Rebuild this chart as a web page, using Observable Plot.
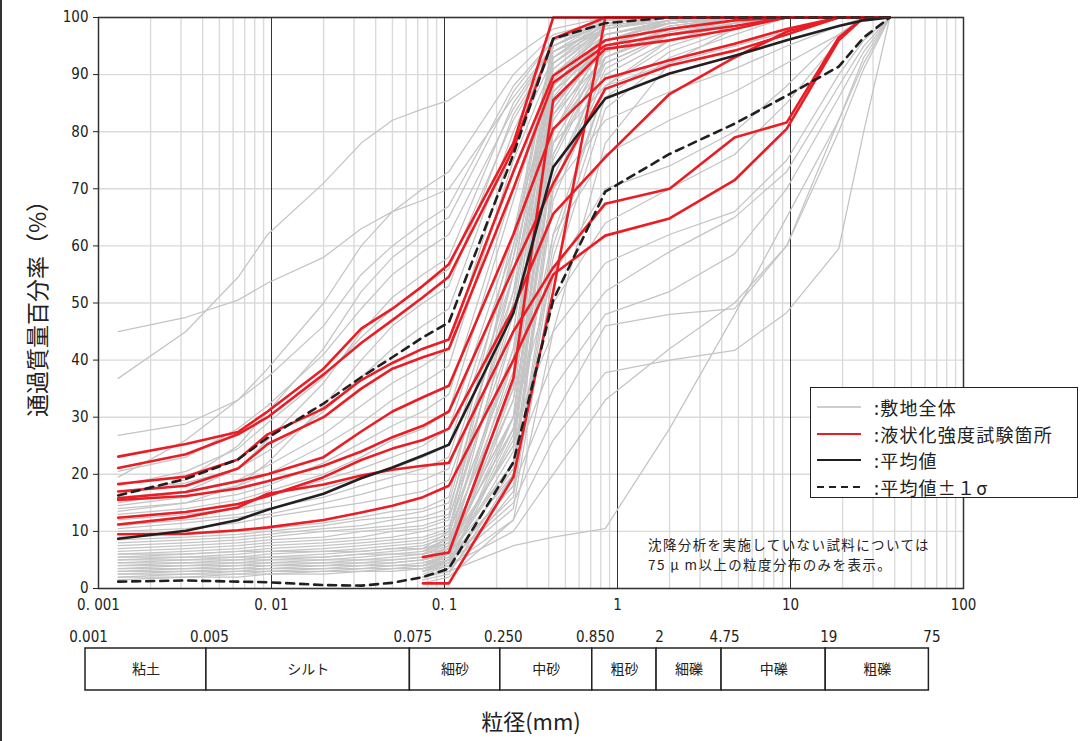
<!DOCTYPE html>
<html><head><meta charset="utf-8">
<script src="https://cdn.jsdelivr.net/npm/d3@7"></script>
<script src="https://cdn.jsdelivr.net/npm/@observablehq/plot@0.6"></script>
<style>
body{margin:0;background:#fff;}
#wrap{position:relative;width:1086px;height:741px;overflow:hidden;font-family:"Noto Sans CJK JP",sans-serif;color:#222;}
#wrap svg{display:block;}
#edge{position:absolute;left:0;top:0;width:2px;height:741px;background:#333;}
#legend{position:absolute;left:810px;top:387px;width:268px;height:111px;border:1.5px solid #222;background:#fff;box-sizing:border-box;}
#legend .row{position:absolute;left:0;width:260px;height:26px;}
#legend .row span{position:absolute;left:63px;top:0;font-size:18px;letter-spacing:1.2px;white-space:nowrap;line-height:26px;}
#legend .row svg{position:absolute;left:6px;top:0;}
#note{position:absolute;left:648px;top:534px;font-size:13.5px;letter-spacing:1.4px;line-height:20px;white-space:nowrap;}
</style></head>
<body>
<div id="wrap"><div id="edge"></div></div>
<script>
// ---- data ----
const grainSizes = [0.0013, 0.0032, 0.0064, 0.0095, 0.02, 0.033, 0.05, 0.075, 0.106, 0.25, 0.425, 0.85, 2, 4.75, 9.5, 19, 26.5, 37.5];
const sieveSizes = [0.075, 0.106, 0.25, 0.425, 0.85, 2, 4.75, 9.5, 19, 26.5, 37.5];

// site-wide samples with sedimentation analysis
const grayFine = [
  [45, 47.5, 50.5, 53.5, 58, 63, 66, 68, 70, 86, 95, 99, 100, 100, 100, 100, 100, 100],
  [36.8, 45, 54.5, 62, 71, 78, 82, 84, 85.5, 93, 98, 100, 100, 100, 100, 100, 100, 100],
  [26.8, 28.8, 33, 37, 46, 55, 60, 64, 67, 88, 96, 99, 100, 100, 100, 100, 100, 100],
  [19.5, 26, 33, 38.5, 50, 60, 66, 70, 73, 90, 97, 99.5, 100, 100, 100, 100, 100, 100],
  [20.5, 23, 28, 32, 41, 49, 55, 59, 62, 84, 95, 99, 100, 100, 100, 100, 100, 100],
  [18, 20.5, 24.5, 29, 37, 44, 49, 53, 56, 82, 94, 98, 100, 100, 100, 100, 100, 100],
  [17, 18.5, 21, 24, 31, 37, 42, 46, 49, 80, 95, 99, 100, 100, 100, 100, 100, 100],
  [16, 17, 19, 21.5, 27, 32, 36, 39, 42, 78, 93, 98, 100, 100, 100, 100, 100, 100],
  [14.5, 16, 18, 20, 25, 29, 33, 36, 39, 75, 92, 98, 100, 100, 100, 100, 100, 100],
  [14, 15, 16.5, 18, 22, 25.5, 28.5, 31, 34, 70, 90, 97, 99.5, 100, 100, 100, 100, 100],
  [13, 14, 15.5, 17, 20, 23, 26, 28, 31, 68, 91, 98, 100, 100, 100, 100, 100, 100],
  [12.5, 13.5, 14.5, 16, 19, 21, 23, 25, 28, 62, 88, 96, 99, 100, 100, 100, 100, 100],
  [12, 13, 14, 15, 17.5, 19.5, 21, 23, 25, 60, 87, 95, 98.5, 100, 100, 100, 100, 100],
  [11, 12, 13, 14, 16, 18, 19.5, 21, 23, 58, 85, 94, 98, 100, 100, 100, 100, 100],
  [10.5, 11.5, 12.5, 13, 15, 16.5, 18, 19, 21, 55, 83, 93, 97, 99, 100, 100, 100, 100],
  [10, 10.5, 11.5, 12.5, 14, 15, 16, 17, 19, 52, 80, 92, 97, 99.5, 100, 100, 100, 100],
  [16.5, 19, 25, 31, 42, 52, 58, 62, 65, 87, 96, 99, 100, 100, 100, 100, 100, 100],
  [15, 17, 21, 26, 36, 45, 51, 55, 58, 85, 95, 99, 100, 100, 100, 100, 100, 100],
  [13.5, 15, 18, 22, 32, 40, 46, 50, 53, 83, 94, 98.5, 100, 100, 100, 100, 100, 100],
  [9, 9.5, 10, 10.5, 11.5, 12.5, 13.5, 14, 16, 62, 95, 99.5, 100, 100, 100, 100, 100, 100],
  [8.5, 9, 9.5, 10, 11, 12, 12.5, 13.5, 15, 55, 93, 99, 100, 100, 100, 100, 100, 100],
  [8, 8.5, 9, 9.5, 10.5, 11, 12, 12.5, 14, 50, 92, 99, 100, 100, 100, 100, 100, 100],
  [7.5, 8, 8.5, 9, 10, 10.5, 11, 12, 13, 58, 96, 100, 100, 100, 100, 100, 100, 100],
  [7, 7.5, 8, 8.5, 9, 10, 10.5, 11, 12.5, 45, 90, 98, 99.5, 100, 100, 100, 100, 100],
  [6.5, 7, 7.5, 8, 8.5, 9, 10, 10.5, 12, 52, 94, 99.5, 100, 100, 100, 100, 100, 100],
  [6, 6.5, 7, 7.5, 8, 8.5, 9, 10, 11, 40, 88, 97, 99, 100, 100, 100, 100, 100],
  [6, 6, 6.5, 7, 7.5, 8, 8.5, 9, 10.5, 48, 91, 98.5, 100, 100, 100, 100, 100, 100],
  [5.5, 6, 6.5, 6.5, 7, 7.5, 8, 8.5, 10, 35, 85, 96, 99, 100, 100, 100, 100, 100],
  [5.5, 5.5, 6, 6.5, 6.5, 7, 7.5, 8, 9.5, 42, 89, 98, 99.5, 100, 100, 100, 100, 100],
  [5, 5.5, 5.5, 6, 6.5, 6.5, 7, 7.5, 9, 30, 82, 95, 98.5, 100, 100, 100, 100, 100],
  [5, 5, 5.5, 5.5, 6, 6.5, 7, 7, 8.5, 38, 87, 97, 99.5, 100, 100, 100, 100, 100],
  [4.5, 5, 5, 5.5, 5.5, 6, 6.5, 7, 8, 28, 80, 94, 98, 100, 100, 100, 100, 100],
  [4.5, 4.5, 5, 5, 5.5, 6, 6, 6.5, 8, 33, 84, 96, 99, 100, 100, 100, 100, 100],
  [4, 4.5, 4.5, 5, 5, 5.5, 6, 6, 7.5, 25, 76, 93, 97.5, 99.5, 100, 100, 100, 100],
  [4, 4, 4.5, 4.5, 5, 5, 5.5, 6, 7, 36, 86, 97, 99, 100, 100, 100, 100, 100],
  [3.5, 4, 4, 4.5, 4.5, 5, 5, 5.5, 7, 22, 72, 92, 97, 99, 100, 100, 100, 100],
  [3.5, 3.5, 4, 4, 4.5, 4.5, 5, 5.5, 6.5, 30, 83, 96, 99, 100, 100, 100, 100, 100],
  [3, 3.5, 3.5, 4, 4, 4.5, 4.5, 5, 6, 20, 68, 90, 96, 99, 100, 100, 100, 100],
  [3, 3, 3.5, 3.5, 4, 4, 4.5, 5, 6, 26, 78, 94, 98, 100, 100, 100, 100, 100],
  [2.5, 3, 3, 3.5, 3.5, 4, 4, 4.5, 5.5, 18, 62, 88, 95, 98.5, 100, 100, 100, 100],
  [2.5, 2.5, 3, 3, 3.5, 3.5, 4, 4, 5, 24, 75, 93, 98, 100, 100, 100, 100, 100],
  [2, 2.5, 2.5, 3, 3, 3.5, 3.5, 4, 5, 16, 58, 86, 94, 98, 100, 100, 100, 100],
  [2, 2, 2.5, 2.5, 3, 3, 3.5, 3.5, 4.5, 21, 70, 91, 97, 99.5, 100, 100, 100, 100],
  [1.5, 2, 2, 2.5, 2.5, 3, 3, 3.5, 4.5, 14, 55, 84, 93, 97, 100, 100, 100, 100]
];

// site-wide samples with sieve analysis only (75 μm and above)
const graySieve = [
  [3, 5, 40, 88, 98, 100, 100, 100, 100, 100, 100],
  [2, 3.5, 30, 80, 96, 99.5, 100, 100, 100, 100, 100],
  [4, 6, 45, 92, 99, 100, 100, 100, 100, 100, 100],
  [1.5, 2.5, 20, 70, 93, 98, 100, 100, 100, 100, 100],
  [5, 7.5, 50, 93, 99.5, 100, 100, 100, 100, 100, 100],
  [2.5, 4, 27, 76, 95, 99, 100, 100, 100, 100, 100],
  [6, 9, 55, 95, 100, 100, 100, 100, 100, 100, 100],
  [3.5, 5, 35, 84, 97, 99.5, 100, 100, 100, 100, 100],
  [1, 2, 12, 45, 78, 92, 98, 100, 100, 100, 100],
  [7, 10, 60, 96, 100, 100, 100, 100, 100, 100, 100],
  [2, 3, 17, 60, 88, 96, 99, 100, 100, 100, 100],
  [6, 8, 28, 45, 57, 62, 66, 75, 90, 96, 100],
  [4.5, 6, 22, 40, 52, 59, 65, 73, 88, 95, 100],
  [3.5, 5, 18, 35, 48, 52, 58.6, 70, 86, 94, 100],
  [3.5, 5, 15, 30, 46, 48, 49, 60, 80, 91, 100],
  [3, 4, 12, 26, 37.8, 40, 41.7, 48.3, 59.5, 80, 100],
  [2, 3, 7.5, 9, 10.5, 28, 48, 65, 82, 93, 100],
  [5, 7, 25, 50, 64, 70, 76, 85, 96, 100, 100],
  [6.5, 9, 30, 55, 70, 74, 80, 88, 97, 100, 100],
  [3, 4, 10, 20, 33, 42, 50, 60, 82, 92, 100],
  [4, 5.5, 33, 70, 82, 87, 91, 95, 98.5, 100, 100],
  [3, 4.5, 28, 62, 76, 82, 87, 92, 97, 100, 100],
  [5, 7, 42, 78, 88, 92, 95, 97.5, 100, 100, 100]
];

// liquefaction strength test locations
const redFine = [
  [23.1, 25.3, 27.4, 31, 38.5, 45.5, 49, 53, 56.8, 78, 100, 100, 100, 100, 100, 100, 100, 100],
  [21.1, 23.5, 27.0, 30, 37.5, 43, 47, 51, 54.6, 77, 96.3, 100, 100, 100, 100, 100, 100, 100],
  [18.3, 19.6, 22.6, 27, 31.5, 36.5, 39.5, 42, 43.6, 73, 89.8, 96, 98, 99.5, 100, 100, 100, 100],
  [17.0, 18.0, 21.0, 25.3, 30, 35, 38.5, 40.5, 42.0, 70, 88.6, 95.1, 97, 98.5, 100, 100, 100, 100],
  [15.8, 16.9, 18.8, 20, 23, 27.5, 31, 33.5, 35.5, 62, 80.5, 89.3, 92.5, 95.4, 98, 100, 100, 100],
  [15.5, 16.2, 17.5, 18.8, 21.5, 24, 26.5, 28.5, 31, 56, 70.9, 87.5, 91.6, 94.2, 97, 100, 100, 100],
  [12.4, 13.4, 14.8, 16.2, 19.5, 22.5, 24.5, 26, 28, 49, 65.6, 75.5, 86.6, 93, 97.5, 100, 100, 100],
  [11.2, 12.5, 14.2, 16.6, 18.2, 19.8, 20.8, 21.5, 22, 45, 56.2, 67.4, 70, 79, 81.6, 96.5, 100, 100],
  [9.5, 9.6, 10.2, 10.7, 12, 13.3, 14.5, 16, 18, 40, 55, 61.8, 64.8, 71.5, 80.5, 96, 100, 100]
];
const redSieve = [
  [5.5, 6.3, 36.8, 85.5, 94.5, 96, 98, 100, 100, 100, 100],
  [0.9, 0.9, 19.5, 52, 100, 100, 100, 100, 100, 100, 100]
];

const meanCurve = [8.7, 10.1, 12.0, 13.8, 16.6, 19.3, 21.2, 23.3, 25.2, 48.2, 73.8, 85.8, 90.2, 93.3, 96, 98.5, 99.5, 100];
const plusSigma = [16.3, 19.2, 22.6, 26.4, 32.4, 37, 40.5, 44, 46.6, 76, 96.3, 99, 100, 100, 100, 100, 100, 100];
const minusSigma = [1.2, 1.4, 1.2, 1.1, 0.6, 0.5, 1.0, 2.0, 3.5, 22.1, 50.5, 69.5, 76.1, 81.4, 86.3, 91.4, 96.5, 100];

const yTicks = [0, 10, 20, 30, 40, 50, 60, 70, 80, 90, 100];
const decadeTicks = [0.001, 0.01, 0.1, 1, 10, 100];
const xTickLabels = ["0. 001", "0. 01", "0. 1", "1", "10", "100"];

const classBounds = [0.001, 0.005, 0.075, 0.25, 0.85, 2, 4.75, 19, 75];
const boundLabels = ["0.001", "0.005", "0.075", "0.250", "0.850", "2", "4.75", "19", "75"];
const classNames = ["粘土", "シルト", "細砂", "中砂", "粗砂", "細礫", "中礫", "粗礫"];

const legendLabels = [":敷地全体", ":液状化強度試験箇所", ":平均値", ":平均値±１σ"];
const yTitle = "通過質量百分率（%）";
const xTitle = "粒径(mm)";
const noteLines = ["沈降分析を実施していない試料については", "75 μ m以上の粒度分布のみを表示。"];

// ---- build ----
function toRows(curves, sizes, prefix) {
  const rows = [];
  curves.forEach((c, k) => c.forEach((v, i) => {
    if (v != null) rows.push({id: prefix + k, d: sizes[i], p: v});
  }));
  return rows;
}
const grayRows = toRows(grayFine, grainSizes, "gf").concat(toRows(graySieve, sieveSizes, "gs"));
const redRows = toRows(redFine, grainSizes, "rf").concat(toRows(redSieve, sieveSizes, "rs"));
const meanRows = toRows([meanCurve], grainSizes, "m");
const sigmaRows = toRows([plusSigma, minusSigma], grainSizes, "s");

const gridX = d3.range(-3, 2).flatMap(e => d3.range(2, 10).map(m => m * Math.pow(10, e)));
const numFont = "'Liberation Sans Narrow','DejaVu Sans Condensed','Liberation Sans',sans-serif";
const jpFont = "'Noto Sans CJK JP',sans-serif";

const main = Plot.plot({
  width: 1086, height: 620,
  marginTop: 17, marginBottom: 32, marginLeft: 98, marginRight: 123,
  x: {type: "log", domain: [0.001, 100]},
  y: {domain: [0, 100]},
  style: {fontFamily: numFont, fontSize: "15px", color: "#222", background: "transparent"},
  marks: [
    Plot.ruleX(gridX, {stroke: "#dadada", strokeWidth: 1.4}),
    Plot.ruleY(yTicks, {stroke: "#dadada", strokeWidth: 1.4}),
    Plot.ruleX(decadeTicks, {stroke: "#333", strokeWidth: 1}),
    Plot.line(grayRows, {x: "d", y: "p", z: "id", stroke: "#c4c4c4", strokeWidth: 1.25}),
    Plot.line(redRows, {x: "d", y: "p", z: "id", stroke: "#ea1d25", strokeWidth: 2.6}),
    Plot.line(meanRows, {x: "d", y: "p", z: "id", stroke: "#231f20", strokeWidth: 2.6}),
    Plot.line(sigmaRows, {x: "d", y: "p", z: "id", stroke: "#231f20", strokeWidth: 2.6, strokeDasharray: "8,6"}),
    Plot.frame({stroke: "#333", strokeWidth: 1.5}),
    Plot.axisY({ticks: yTicks, tickSize: 5, tickPadding: 5, label: null, fontSize: 15, fontFamily: numFont}),
    Plot.axisX({ticks: decadeTicks, tickFormat: d => xTickLabels[decadeTicks.indexOf(d)], tickSize: 0, tickPadding: 11, label: null, fontSize: 15, fontFamily: numFont}),
    Plot.text([yTitle], {frameAnchor: "left", rotate: -90, dx: -60, textAnchor: "middle", lineAnchor: "middle", fontSize: 23, fontFamily: jpFont, fill: "#222"})
  ]
});

const classRows = classNames.map((name, i) => ({name, lo: classBounds[i], hi: classBounds[i + 1]}));
const table = Plot.plot({
  width: 1086, height: 121,
  marginTop: 28, marginBottom: 51, marginLeft: 85, marginRight: 136,
  x: {type: "log", domain: [0.001, 100], axis: null},
  y: {domain: [0, 1], axis: null},
  style: {fontFamily: numFont, color: "#222", background: "transparent"},
  marks: [
    Plot.rect(classRows, {x1: "lo", x2: "hi", y1: 0, y2: 1, stroke: "#222", strokeWidth: 1.5, fill: "white"}),
    Plot.text(classRows, {x: d => Math.sqrt(d.lo * d.hi), y: 0.5, text: "name", fontSize: 14, fontFamily: jpFont, fill: "#222"}),
    Plot.text(classBounds, {x: d => d, text: (d, i) => boundLabels[i], frameAnchor: "top", dy: -11, dx: 3, lineAnchor: "middle", fontSize: 15, fontFamily: numFont, fill: "#222"}),
    Plot.text([xTitle], {frameAnchor: "bottom", dy: 32, dx: 13, lineAnchor: "middle", fontSize: 22, fontFamily: jpFont, fill: "#222"})
  ]
});

const wrap = document.getElementById("wrap");
wrap.appendChild(main);
wrap.appendChild(table);

// legend
const legend = document.createElement("div");
legend.id = "legend";
const legendStyles = [
  {stroke: "#bdbdbd", w: 1.5, dash: null},
  {stroke: "#ea1d25", w: 2, dash: null},
  {stroke: "#231f20", w: 2, dash: null},
  {stroke: "#231f20", w: 2, dash: "7,5"}
];
legendLabels.forEach((lab, i) => {
  const row = document.createElement("div");
  row.className = "row";
  row.style.top = (6 + i * 26.5) + "px";
  const s = legendStyles[i];
  row.innerHTML = `<svg width="44" height="26"><line x1="0" x2="44" y1="13" y2="13" stroke="${s.stroke}" stroke-width="${s.w}" ${s.dash ? `stroke-dasharray="${s.dash}"` : ""}/></svg><span>${lab}</span>`;
  legend.appendChild(row);
});
wrap.appendChild(legend);

const note = document.createElement("div");
note.id = "note";
note.innerHTML = noteLines.join("<br>");
wrap.appendChild(note);
</script>
</body></html>
